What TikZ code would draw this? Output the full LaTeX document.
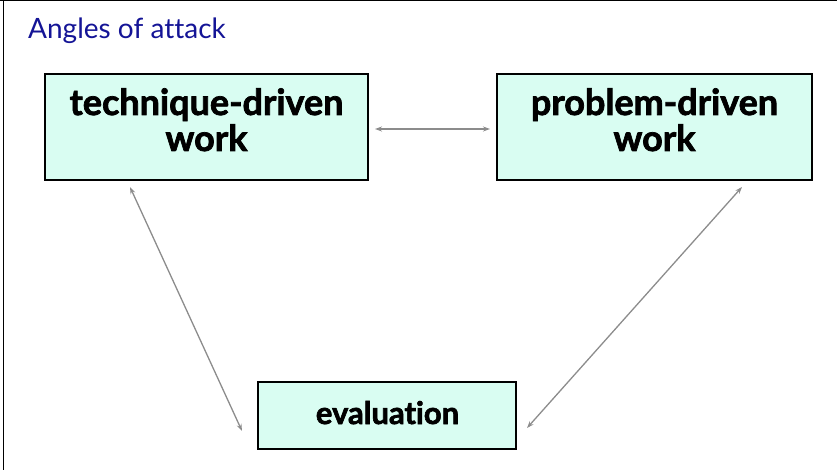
\documentclass[tikz,border=0pt]{standalone}
\usepackage{fontspec}
\setmainfont{Lato}[RawFeature=-liga]
\newfontfamily\heavy{Lato}[RawFeature=-liga, BoldFeatures={FakeBold=2}]
\usetikzlibrary{arrows.meta}
\definecolor{titleblue}{RGB}{20,20,150}
\definecolor{boxfill}{RGB}{217,253,242}
\definecolor{arrowgray}{RGB}{140,140,140}
\tikzset{
  workbox/.style={draw=black, line width=2.6bp, fill=boxfill, inner sep=0pt},
  worktext/.style={inner sep=0pt, align=center, font=\fontsize{36bp}{36bp}\selectfont\heavy\bfseries},
  link/.style={draw=arrowgray, line width=1.3bp,
    {Stealth[length=7bp,width=5bp]}-{Stealth[length=7bp,width=5bp]}}
}
\begin{document}
\begin{tikzpicture}[x=1bp,y=-1bp]
\useasboundingbox (0,0) rectangle (837,470);
\draw[line width=1.5bp] (0,0.75) -- (837,0.75);
\draw[line width=1.5bp] (3.5,0) -- (3.5,470);
\node[anchor=base west, text=titleblue, font=\fontsize{28bp}{30bp}\selectfont, inner sep=0pt] (title) at (28,39) {Angles of attack};
\node[workbox, minimum width=323bp, minimum height=106bp] (tech) at (206.5,127) {};
\node[workbox, minimum width=315bp, minimum height=106bp] (prob) at (654.5,127) {};
\node[workbox, minimum width=258bp, minimum height=67bp] (eval) at (387,415.5) {};
\node[worktext, anchor=base] (techtext) at (206.5,151) {technique-driven\\work};
\node[worktext, anchor=base] (probtext) at (654.5,151) {problem-driven\\work};
\node[worktext, anchor=base, font=\fontsize{31bp}{36bp}\selectfont\heavy\bfseries] (evaltext) at (387.5,424) {evaluation};
\coordinate (h1) at (375,129);
\coordinate (h2) at (490,129);
\coordinate (l1) at (130,187);
\coordinate (l2) at (242,431);
\coordinate (r1) at (742,187);
\coordinate (r2) at (527,428);
\draw[link] (h1) -- (h2);
\draw[link] (l1) -- (l2);
\draw[link] (r1) -- (r2);
\end{tikzpicture}
\end{document}
